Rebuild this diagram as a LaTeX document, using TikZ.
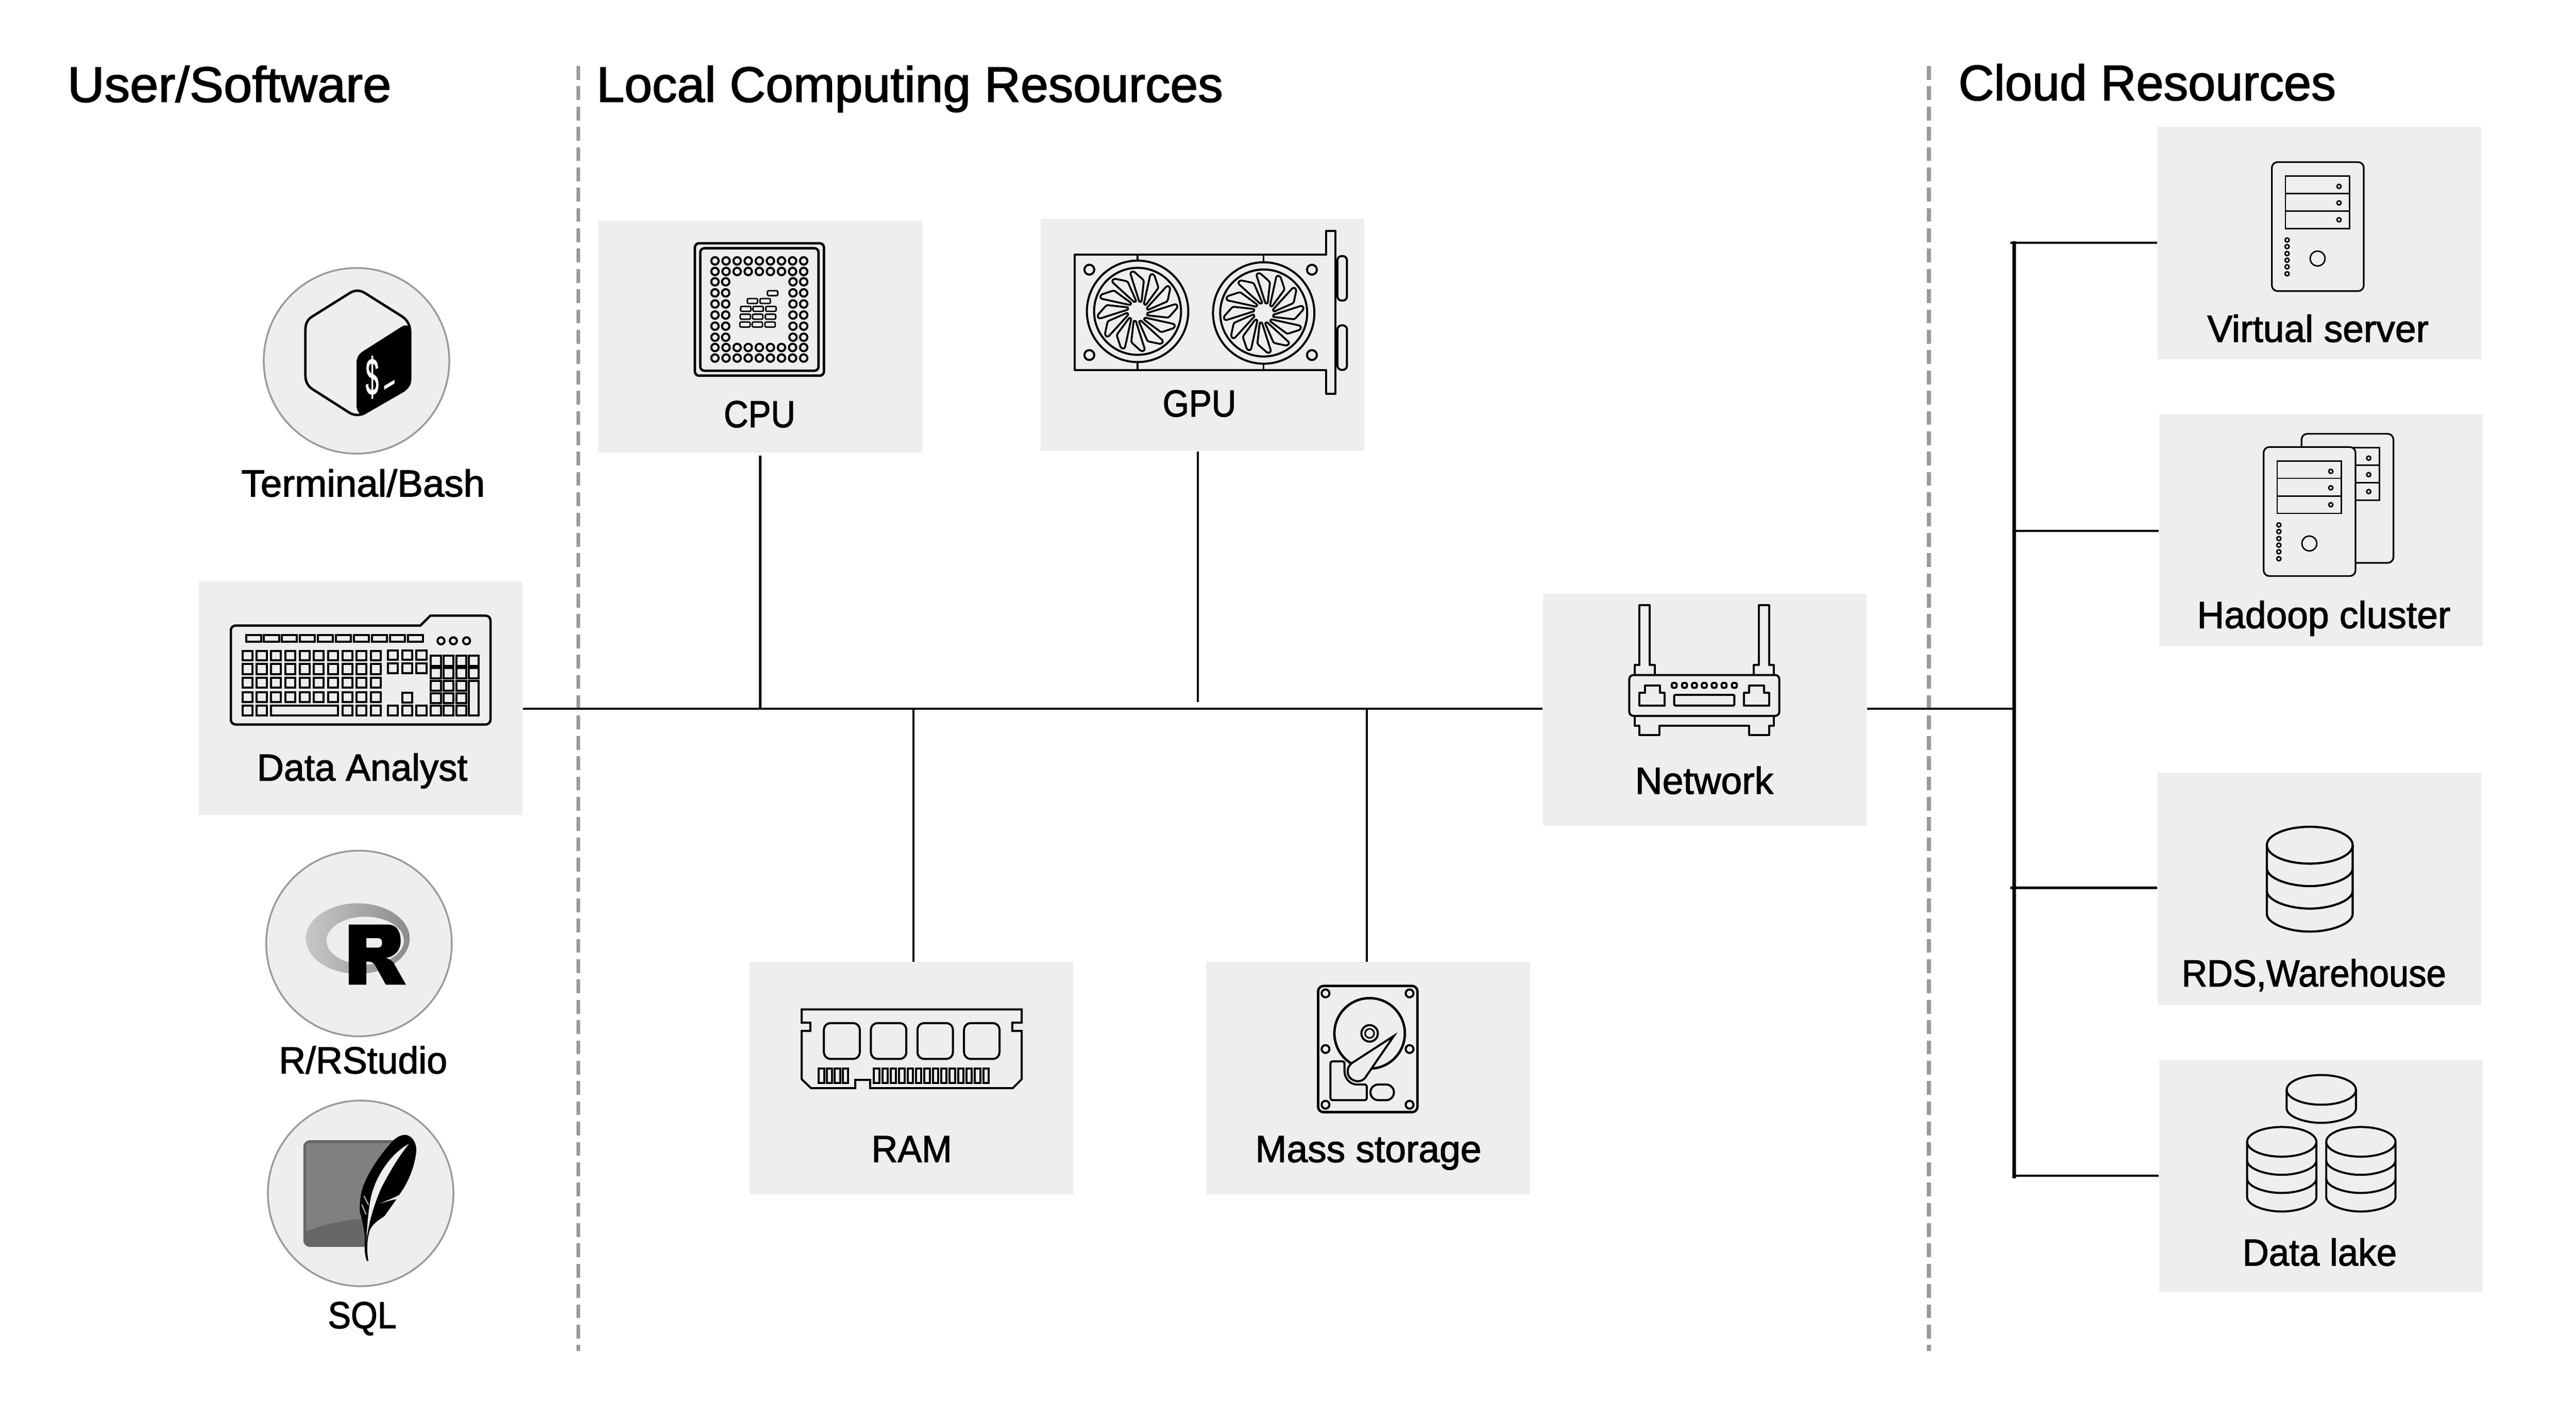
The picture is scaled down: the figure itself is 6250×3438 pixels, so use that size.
\documentclass[tikz,border=0pt]{standalone}
\usepackage{fontspec}
\usetikzlibrary{calc}
\setmainfont{Liberation Sans}
\newfontfamily\labfont[FakeBold=1.8]{Liberation Sans}
\definecolor{boxgray}{HTML}{EEEEEE}
\definecolor{dashgray}{HTML}{999999}
\def\pxu{*0.2845pt}
\tikzset{
  px5/.style={line width=1.42pt,line join=round},
  px6/.style={line width=1.7pt,line join=round},
  px4/.style={line width=1.1pt,line join=round},
  panel/.style={fill=boxgray,draw=none,inner sep=0pt,minimum width=785\pxu,minimum height=563\pxu,anchor=north west},
  roundel/.style={circle,fill=boxgray,draw=dashgray,line width=1.2pt,inner sep=0pt,minimum size=450\pxu},
  labeltext/.style={font=\labfont\fontsize{26}{30}\selectfont,anchor=base,inner sep=0pt,text=black},
  heading/.style={font=\labfont\fontsize{34.4}{40}\selectfont,anchor=base west,inner sep=0pt,text=black},
  fitw/.style={xscale=#1,transform shape},
  wire/.style={draw=black,line width=1.5pt},
  zone/.style={draw=dashgray,line width=2.6pt,dash pattern=on 9.5pt off 4.5pt},
  keyline/.style={draw=black,line width=1.42pt},
  blade/.style={draw=black,line width=1.3pt,line join=round},
}
\newcommand{\kk}[4]{\draw[keyline] ({#1+2.5},{#2+2.5}) -- ({#3-2.5},{#2+2.5}) -- ({#3-2.5},{#4-2.5}) -- ({#1+2.5},{#4-2.5}) -- cycle;}
% rounded rectangle: options, x1, y1, x2, y2, radius (all in reference pixels)
\newcommand{\rr}[6]{\draw[#1] ({#2+#6},{#3}) -- ({#4-#6},{#3}) .. controls ({#4-0.45*#6},{#3}) and ({#4},{#3+0.45*#6}) .. ({#4},{#3+#6}) -- ({#4},{#5-#6}) .. controls ({#4},{#5-0.45*#6}) and ({#4-0.45*#6},{#5}) .. ({#4-#6},{#5}) -- ({#2+#6},{#5}) .. controls ({#2+0.45*#6},{#5}) and ({#2},{#5-0.45*#6}) .. ({#2},{#5-#6}) -- ({#2},{#3+#6}) .. controls ({#2},{#3+0.45*#6}) and ({#2+0.45*#6},{#3}) .. ({#2+#6},{#3}) -- cycle;}
\newcommand{\srvicon}[2]{%
\begin{scope}[shift={(#1,#2)}]
  \rr{fill=boxgray,line width=1.15pt}{5512}{393}{5735}{706}{14}
  \draw[line width=1pt] (5545,427) -- (5701,427) -- (5701,554) -- (5545,554) -- cycle;
  \draw[line width=1pt] (5545,469) -- (5701,469) (5545,512) -- (5701,512);
  \foreach \yy in {452,492,533} {\draw[line width=1pt] (5675,\yy) circle (5);}
  \foreach \yy in {582,598,615,631,647,664} {\draw[line width=1pt] (5549,\yy) circle (5);}
  \draw[line width=1pt] (5623,627) circle (18);
\end{scope}}
% stack: top ellipse centre at (0,36), unit geometry of the data-lake stack
\newcommand{\dbstack}[4]{%
\begin{scope}[shift={(#1,#2)},xscale=#3,yscale=#3]
  \draw[line width=#4] (0,36) ellipse [x radius=84,y radius=36];
  \draw[line width=#4] (-84,36) -- (-84,170) .. controls (-84,190) and (-40,205) .. (0,205) .. controls (40,205) and (84,190) .. (84,170) -- (84,36);
  \foreach \yy in {81,125} {\draw[line width=#4] (-84,\yy) .. controls (-84,\yy+20) and (-40,\yy+35) .. (0,\yy+35) .. controls (40,\yy+35) and (84,\yy+20) .. (84,\yy);}
\end{scope}}
\begin{document}
\begin{tikzpicture}[x=0.01cm,y=-0.01cm]
\useasboundingbox (0,0) rectangle (6250,3438);
\coordinate (bus) at (0,1719);
% zone separators
\coordinate (z1a) at (1403,160); \coordinate (z1b) at (1403,3276);
\coordinate (z2a) at (4680,160); \coordinate (z2b) at (4680,3276);
\draw[zone] (z1a) -- (z1b);
\draw[zone] (z2a) -- (z2b);
% panels
\node[panel] (cpu) at (1451,534) {};
\node[panel] (gpu) at (2524,530) {};
\node[panel,minimum height=566\pxu] (analyst) at (482,1409) {};
\node[panel] (ram) at (1818,2332) {};
\node[panel] (hdd) at (2926,2332) {};
\node[panel] (net) at (3743,1439) {};
\node[panel] (vserver) at (5234,307) {};
\node[panel] (hadoop) at (5238,1004) {};
\node[panel] (rds) at (5234,1873) {};
\node[panel] (lake) at (5238,2570) {};
\node[roundel] (bash) at (865,875) {};
\node[roundel] (rlang) at (871,2288) {};
\node[roundel] (sqlc) at (875,2894) {};
% connectors
\coordinate (gpuend) at (2906,1702);
\coordinate (cpustart) at ($(cpu.south)+(0,6)$);
\coordinate (ramtop) at (2216,1719);
\coordinate (hddtop) at (3316,1719);
\coordinate (trunk) at (4887,1719);
\coordinate (tv) at (4878,589);
\coordinate (th) at (4887,1287);
\coordinate (tr) at (4878,2153);
\coordinate (tl) at (4887,2851);
\coordinate (trtop) at (4887,585);
\coordinate (trbot) at (4887,2858);
\draw[wire] (analyst.east |- bus) -- (net.west |- bus);
\draw[wire] (cpustart) -- (cpu.south |- bus);
\draw[wire] (gpu.south -| gpuend) -- (gpuend);
\draw[wire] (ram.north -| ramtop) -- (ramtop);
\draw[wire] (hdd.north -| hddtop) -- (hddtop);
\draw[wire] (net.east |- bus) -- (trunk);
\draw[draw=black,line width=2.4pt] (trtop) -- (trbot);
\draw[wire] (tv) -- (vserver.west |- tv);
\draw[wire] (th) -- (hadoop.west |- th);
\draw[wire] (tr) -- (rds.west |- tr);
\draw[wire] (tl) -- (lake.west |- tl);
% headings
\node[heading,fitw=1.025] (h1) at (163,247) {User/Software};
\node[heading] (h2) at (1447,247) {Local Computing Resources};
\node[heading,fitw=0.987] (h3) at (4751,243) {Cloud Resources};
% labels
\node[labeltext,fitw=1.02] (l1) at (881,1204) {Terminal/Bash};
\node[labeltext,fitw=0.985] (l2) at (879,1893) {Data Analyst};
\node[labeltext,fitw=0.98] (l3) at (881,2603) {R/RStudio};
\node[labeltext,fitw=0.91] (l4) at (879,3221) {SQL};
\node[labeltext,fitw=0.9] (l5) at (1843,1036) {CPU};
\node[labeltext,fitw=0.9] (l6) at (2910,1010) {GPU};
\node[labeltext,fitw=0.96] (l7) at (2212,2818) {RAM};
\node[labeltext] (l8) at (3320,2818) {Mass storage};
\node[labeltext] (l9) at (4135,1925) {Network};
\node[labeltext] (l10) at (5624,829) {Virtual server};
\node[labeltext] (l11) at (5638,1523) {Hadoop cluster};
\node[labeltext,fitw=0.94] (l12) at (5614,2392) {RDS,Warehouse};
\node[labeltext,fitw=0.97] (l13) at (5628,3069) {Data lake};
% ---- bash icon
\draw[px6] (848,711) .. controls (860,703) and (874,703) .. (886,711) -- (975,767) .. controls (990,777) and (995,790) .. (995,805) -- (995,915) .. controls (995,930) and (990,940) .. (978,948) -- (886,1001) .. controls (874,1008) and (860,1008) .. (848,1001) -- (757,943) .. controls (746,935) and (741,925) .. (741,910) -- (741,800) .. controls (741,785) and (746,775) .. (757,768) -- cycle;
\fill[black] (882,851) -- (973,793) .. controls (985,785) and (998,790) .. (998,805) -- (998,918) .. controls (998,932) and (993,940) .. (984,946) -- (888,1003) .. controls (880,1008) and (873,1007) .. (871,1001) .. controls (866,995) and (865,990) .. (865,980) -- (865,880) .. controls (865,866) and (872,857) .. (882,851) -- cycle;
\node[text=white,inner sep=0pt,font=\labfont\fontsize{20}{22}\selectfont,xscale=0.8,yscale=1.8,transform shape] (dollar) at (903,915) {\$};
\fill[white] (932,936) -- (957,921) -- (957,930) -- (932,945) -- cycle;
% ---- R icon
\begin{scope}[shift={(0,-4)}]
\shade[even odd rule,left color=black!22,right color=black!45] (868,2280) ellipse [x radius=126,y radius=85.5] (886,2285) ellipse [x radius=94,y radius=58];
\fill[black,even odd rule] (846,2246) -- (940,2246) .. controls (965,2246) and (972,2265) .. (972,2287) .. controls (972,2310) and (955,2325) .. (935,2327) .. controls (945,2329) and (950,2333) .. (955,2339) -- (985,2392) -- (936,2392) -- (913,2350) .. controls (908,2340) and (903,2336) .. (895,2336) -- (889,2336) -- (889,2392) -- (846,2392) -- cycle
 (889,2279) -- (889,2302) -- (917,2302) .. controls (925,2302) and (927,2296) .. (927,2290) .. controls (927,2284) and (925,2279) .. (917,2279) -- cycle;
\end{scope}
% ---- SQL icon
\begin{scope}[shift={(0,-4)}]
\fill[black!60] (754,2769) -- (955,2769) -- (883,2880) -- (887,3028) -- (754,3028) .. controls (744,3028) and (736,3022) .. (736,3012) -- (736,2785) .. controls (736,2775) and (744,2769) .. (754,2769) -- cycle;
\fill[black!50] (750,2776) -- (955,2776) -- (883,2880) -- (877,2960) .. controls (830,2962) and (785,2975) .. (743,2989) -- (743,2783) .. controls (743,2779) and (746,2776) .. (750,2776) -- cycle;
\fill[black] (953,2771) .. controls (962,2762) and (972,2756) .. (984,2756) .. controls (1000,2758) and (1010,2775) .. (1010,2792) .. controls (1010,2810) and (1000,2860) .. (968,2902) -- (962,2912) -- (933,2953) .. controls (920,2962) and (905,2970) .. (897,2988) .. controls (892,3005) and (888,3030) .. (894,3062) -- (890,3062) .. controls (882,3040) and (886,3025) .. (885,3005) .. controls (884,2985) and (878,2960) .. (873,2942) .. controls (872,2920) and (875,2895) .. (883,2876) .. controls (895,2845) and (925,2800) .. (953,2771) -- cycle;
\fill[boxgray] (992,2778) .. controls (950,2800) and (905,2860) .. (897,2925) .. controls (893,2950) and (890,2985) .. (889,3015) .. controls (892,2980) and (905,2930) .. (925,2885) .. controls (945,2845) and (970,2805) .. (992,2778) -- cycle;
\fill[boxgray] (922,2923) .. controls (935,2916) and (950,2912) .. (968,2902) -- (962,2912) .. controls (950,2914) and (935,2918) .. (922,2923) -- cycle;
\draw[black!30,line width=0.8pt] (883,2904) -- (894,2926) (878,2925) -- (888,2949);
\end{scope}
% ---- keyboard
\draw[draw=black,line width=1.6pt,line join=round] (572,1517) -- (1020,1517) -- (1044,1493) -- (1178,1493) .. controls (1185,1493) and (1190,1498) .. (1190,1505) -- (1190,1745) .. controls (1190,1752) and (1185,1757) .. (1178,1757) -- (572,1757) .. controls (565,1757) and (560,1752) .. (560,1745) -- (560,1529) .. controls (560,1522) and (565,1517) .. (572,1517) -- cycle;
\foreach \ki in {0,...,9} {\kk{594.4+43.7*\ki}{1537}{594.4+43.7*\ki+41.3}{1559}}
\foreach \kx in {1070,1100,1132} {\draw[keyline] (\kx,1554) ellipse [x radius=8.5,y radius=8.5];}
\foreach \ka/\kb in {1576/1604,1608/1637,1641/1670,1676/1705} {
  \foreach \ki in {0,...,9} {\kk{586+34.6*\ki}{\ka}{615+34.6*\ki}{\kb}}}
\foreach \ki in {0,1,7,8,9} {\kk{586+34.6*\ki}{1709}{615+34.6*\ki}{1738}}
\kk{655}{1709}{823}{1738}
\foreach \kx in {939,974,1008} {\kk{\kx}{1575}{\kx+29}{1603} \kk{\kx}{1606}{\kx+29}{1635} \kk{\kx}{1709}{\kx+29}{1738}}
\kk{974}{1677}{1003}{1706}
\foreach \ka/\kb in {1588/1617,1618/1647,1649/1677,1679/1707,1709/1738} {
  \foreach \kx in {1043,1074,1104.5} {\kk{\kx}{\ka}{\kx+29}{\kb}}}
\kk{1135}{1588}{1164}{1617} \kk{1135}{1618}{1164}{1647} \kk{1135}{1649}{1164}{1738}
% ---- CPU
\rr{px6}{1686}{590}{1999}{911}{10}
\rr{px6}{1699}{602}{1986}{899}{10}
\foreach \ki in {0,...,8} {\foreach \ky in {632.7,658.3,842.7,868.3} {\draw[px5] ({1734.7+26.9*\ki},\ky) circle (9);}}
\foreach \ki in {0,...,5} {\foreach \kx in {1734.7,1760.7,1924,1950} {\draw[px5] (\kx,{683.3+26.9*\ki}) circle (9);}}
\foreach \kx/\ky in {1795/781,1825/781,1856/781,1796/762,1826/762,1857/762,1797/743,1827/743,1858/743,1813/724,1844/724,1862/705} {
  \rr{line width=1pt}{\kx}{\ky}{\kx+25}{\ky+12}{3}}
% ---- GPU
\draw[px5] (3218,618) -- (2608,618) -- (2608,897) -- (3218,897) -- (3218,955) -- (3240,955) -- (3240,560) -- (3218,560) -- cycle;
\foreach \cx/\cy in {2760/755,3066/759}{
  \draw[px5] (\cx,\cy) circle (123);
  \draw[px5] (\cx,\cy) circle (105.5);
  \draw[px4] (\cx,618) -- (\cx,\cy-123) (\cx,\cy+123) -- (\cx,897);
  \foreach \ba in {0,30,...,330}{
    \begin{scope}[shift={(\cx,\cy)},rotate=\ba]
      \draw[blade] (4,-24) -- (-17,-90) .. controls (-18,-96) and (-12,-98) .. (-7,-95) -- (12,-78) .. controls (14,-76) and (15,-74) .. (15,-72) -- (10,-27) .. controls (10,-22) and (6,-22) .. (4,-24) -- cycle;
    \end{scope}}
}
\foreach \kx in {2643,3183} {\foreach \ky in {654,861} {\draw[px5] (\kx,\ky) circle (12);}}
\rr{px5}{3245}{621}{3268}{729}{10}
\rr{px5}{3245}{789}{3268}{897}{10}
% ---- RAM
\draw[px5,line join=miter] (1945,2448) -- (2479,2448) -- (2479,2480) -- (2456,2480) -- (2456,2500) -- (2479,2500) -- (2479,2617) -- (2457,2639) -- (2111,2639) -- (2111,2619) -- (2075,2619) -- (2075,2639) -- (1968,2639) -- (1945,2617) -- (1945,2500) -- (1966,2500) -- (1966,2480) -- (1945,2480) -- cycle;
\foreach \ka/\kb in {1999/2086,2113/2199,2226/2312,2339/2425} {
  \rr{px5}{\ka}{2481}{\kb}{2568}{16}}
\foreach \ka in {1984,2003.6,2023,2042} {\kk{\ka}{2589}{\ka+18}{2629}}
\foreach \ki in {0,...,13} {\kk{2118+20.4*\ki}{2589}{2136+20.4*\ki}{2629}}
% ---- HDD
\rr{px6}{3198}{2391}{3439}{2697}{13}
\foreach \kx in {3216,3420} {\foreach \ky in {2409,2544,2679} {\draw[px5] (\kx,\ky) circle (9.5);}}
\draw[px6] plot[smooth,domain=-238:87,samples=80] ({3323+85.5*cos(\x)},{2506+85.5*sin(\x)});
\draw[px5] (3323,2506) circle (20);
\draw[px4] (3323,2506) circle (11);
\draw[line width=1.42pt,miter limit=10] (3382,2512) -- (3280,2578) .. controls (3262,2592) and (3268,2620) .. (3294,2622) .. controls (3305,2622) and (3312,2616) .. (3316,2608) -- cycle;
\draw[px5] (3232,2574) -- (3258,2574) .. controls (3260,2574) and (3262,2576) .. (3262,2580) -- (3262,2597) .. controls (3262,2615) and (3275,2630) .. (3293,2630) -- (3310,2630) .. controls (3314,2630) and (3316,2632) .. (3316,2636) -- (3316,2662) .. controls (3316,2666) and (3314,2668) .. (3310,2668) -- (3234,2668) .. controls (3230,2668) and (3228,2666) .. (3228,2662) -- (3228,2580) .. controls (3228,2576) and (3230,2574) .. (3232,2574) -- cycle;
\rr{px5}{3325}{2630}{3382}{2668}{19}
% ---- router
\rr{px5}{3953}{1637}{4317}{1736}{10}
\foreach \kd in {0,289}{
  \draw[px5] (3966+\kd,1637) -- (3966+\kd,1613) -- (3978+\kd,1613) -- (3978+\kd,1468) -- (4003+\kd,1468) -- (4003+\kd,1613) -- (4015+\kd,1613) -- (4015+\kd,1637);
}
\draw[px5] (3966,1736) -- (3966,1760) -- (3978,1760) -- (3978,1782) -- (4026,1782) -- (4026,1760) -- (4244,1760) -- (4244,1782) -- (4292,1782) -- (4292,1760) -- (4304,1760) -- (4304,1736);
\foreach \kd in {0,253} {
  \draw[px5] (3978+\kd,1711) -- (3978+\kd,1680) -- (3991+\kd,1680) -- (3991+\kd,1662) -- (4027+\kd,1662) -- (4027+\kd,1680) -- (4039+\kd,1680) -- (4039+\kd,1711) -- cycle;}
\foreach \kx in {4062,4087,4111,4135,4159,4183,4208} {
  \rr{px5}{\kx-6}{1656}{\kx+6}{1668}{4}}
\rr{px5}{4062}{1685}{4208}{1711}{3}
% ---- servers
\srvicon{0}{0}
\srvicon{72}{659}
\srvicon{-20}{691}
% ---- database stacks
\dbstack{5604}{2005}{1.24}{1.5pt}
\dbstack{5536}{2733}{1}{1.42pt}
\dbstack{5728}{2733}{1}{1.42pt}
\begin{scope}[shift={(5632,2607)}]
  \draw[px5] (0,36) ellipse [x radius=84,y radius=36];
  \draw[px5] (-84,36) -- (-84,81) .. controls (-84,101) and (-40,116) .. (0,116) .. controls (40,116) and (84,101) .. (84,81) -- (84,36);
\end{scope}
\end{tikzpicture}
\end{document}
